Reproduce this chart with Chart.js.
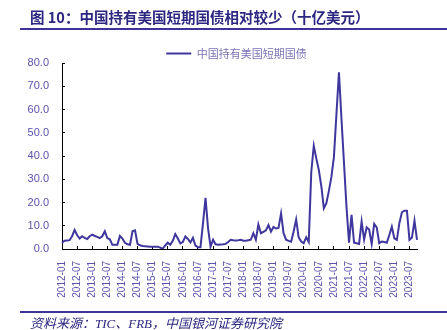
<!DOCTYPE html>
<html lang="zh">

<head>
    <meta charset="UTF-8" />
    <meta name="viewport" content="width=device-width, initial-scale=1.0" />
    <title>中国持有美国短期国债</title>
    <style>
        html,
        body {
            margin: 0;
            padding: 0;
            background: #fff;
        }

        #page {
            position: relative;
            width: 447px;
            height: 330px;
            overflow: hidden;
        }

        #title {
            position: absolute;
            left: 30px;
            top: 6px;
            font: bold 14.5px "Noto Sans CJK SC", sans-serif;
            color: #2b2680;
            white-space: nowrap;
        }

        .rule {
            position: absolute;
            left: 20px;
            right: 0;
            height: 2px;
            background: #3d3399;
        }

        #rule-top {
            top: 28px;
        }

        #rule-bottom {
            top: 311px;
        }

        #source {
            position: absolute;
            left: 30px;
            top: 313px;
            font: italic 13px "Liberation Serif", "Noto Sans CJK SC", serif;
            color: #2b2680;
            white-space: nowrap;
        }

        #chart {
            position: absolute;
            left: 0;
            top: 0;
        }
    </style>
</head>

<body>
    <div id="page">
        <canvas id="chart" width="447" height="330"></canvas>
        <div id="title">图 10：中国持有美国短期国债相对较少（十亿美元）</div>
        <div class="rule" id="rule-top"></div>
        <div class="rule" id="rule-bottom"></div>
        <div id="source">资料来源：TIC、FRB，中国银河证券研究院</div>
    </div>

    <script src="https://cdn.jsdelivr.net/npm/chart.js@4/dist/chart.umd.min.js"></script>
    <script>
        // monthly holdings, billion USD, 2012-01 .. 2023-10 (one row per year)
        const holdings = [
            2.7, 3.6, 3.7, 3.8, 5.5, 8.2, 6.0, 4.5, 5.5, 4.8, 4.3, 5.5,
            6.2, 5.6, 5.2, 4.7, 5.5, 7.6, 4.7, 4.2, 1.8, 1.8, 1.8, 5.6,
            4.5, 2.7, 2.0, 1.8, 7.6, 8.0, 2.2, 1.6, 1.3, 1.2, 1.1, 1.0,
            1.0, 1.0, 1.0, 0.6, 0.1, 1.5, 2.7, 1.8, 3.5, 6.4, 4.5, 2.4,
            3.0, 5.4, 4.3, 2.8, 4.8, 1.5, 0.8, 0.8, 11.0, 22.0, 9.0, 1.0,
            4.0, 2.0, 1.8, 1.9, 2.0, 2.2, 3.0, 4.0, 3.8, 3.7, 3.8, 4.0,
            3.6, 3.6, 3.8, 4.0, 6.8, 4.0, 10.5, 6.8, 7.4, 8.0, 10.3, 7.5,
            9.5, 8.8, 9.1, 15.3, 6.8, 4.0, 3.5, 3.1, 7.5, 12.7, 5.0, 3.2,
            2.5, 5.0, 3.0, 33.0, 44.4, 39.0, 34.0, 27.0, 17.5, 19.7, 25.0, 31.0,
            39.5, 58.0, 76.0, 56.0, 37.0, 18.0, 2.7, 14.7, 2.7, 2.5, 2.2, 11.8,
            4.0, 9.3, 8.4, 2.2, 10.8, 9.3, 2.5, 3.2, 3.0, 2.7, 6.0, 9.6,
            4.6, 3.9, 11.1, 15.8, 16.5, 16.5, 3.9, 4.9, 12.2, 3.9
        ];

        // labels shown under the x axis
        const tickLabels = [
            "2012-01", "2012-07", "2013-01", "2013-07", "2014-01", "2014-07",
            "2015-01", "2015-07", "2016-01", "2016-07", "2017-01", "2017-07",
            "2018-01", "2018-07", "2019-01", "2019-07", "2020-01", "2020-07",
            "2021-01", "2021-07", "2022-01", "2022-07", "2023-01", "2023-07"
        ];

        const yMin = 0;
        const yMax = 80;
        const yStep = 10;

        // one category per month
        const months = [];
        for (let y = 2012; y <= 2023; y++) {
            for (let m = 1; m <= 12; m++) {
                if (months.length >= holdings.length) break;
                months.push(y + "-" + String(m).padStart(2, "0"));
            }
        }

        const axisColor = "#000";
        const labelColor = "#5a52ad";

        // the legend sits a little lower and left of where the layout puts it
        const legendShift = {
            id: "legendShift",
            afterLayout(chart) {
                const lg = chart.legend;
                lg.top += 6;
                lg.bottom += 6;
                lg.left -= 3;
                lg.right -= 3;
            }
        };

        new Chart("chart", {
            type: "line",
            data: {
                labels: months,
                datasets: [{
                    label: "中国持有美国短期国债",
                    data: holdings,
                    borderColor: "#3f369e",
                    backgroundColor: "#3f369e",
                    borderWidth: 2,
                    pointRadius: 0,
                    pointStyle: "line",
                    tension: 0
                }]
            },
            plugins: [legendShift],
            options: {
                responsive: false,
                animation: false,
                layout: {
                    padding: { top: 32, left: 0, right: 30, bottom: 31 }
                },
                plugins: {
                    tooltip: { enabled: false },
                    legend: {
                        position: "top",
                        fullSize: false,
                        labels: {
                            usePointStyle: true,
                            pointStyleWidth: 25,
                            padding: 10,
                            color: "#7a72b5",
                            font: { family: "Noto Sans CJK SC", size: 11 }
                        }
                    }
                },
                scales: {
                    x: {
                        grid: {
                            display: true,
                            drawOnChartArea: false,
                            drawTicks: true,
                            tickLength: -3,
                            color: axisColor
                        },
                        border: { display: true, color: axisColor, width: 1 },
                        ticks: {
                            autoSkip: false,
                            minRotation: 90,
                            maxRotation: 90,
                            padding: 15,
                            color: labelColor,
                            font: { family: "Liberation Sans", size: 10 },
                            callback: function (value) {
                                const lab = this.getLabelForValue(value);
                                return tickLabels.includes(lab) ? lab : null;
                            }
                        },
                        afterFit: function (scale) {
                            scale.height = 50;
                        }
                    },
                    y: {
                        min: yMin,
                        max: yMax,
                        grid: {
                            display: true,
                            drawOnChartArea: false,
                            drawTicks: true,
                            tickLength: -3,
                            color: axisColor
                        },
                        border: { display: true, color: axisColor, width: 1 },
                        ticks: {
                            stepSize: yStep,
                            padding: 16,
                            color: labelColor,
                            font: { family: "Liberation Sans", size: 11 },
                            callback: v => v.toFixed(1)
                        },
                        afterFit: function (scale) {
                            scale.width = 62;
                        }
                    }
                }
            }
        });
    </script>
</body>

</html>
